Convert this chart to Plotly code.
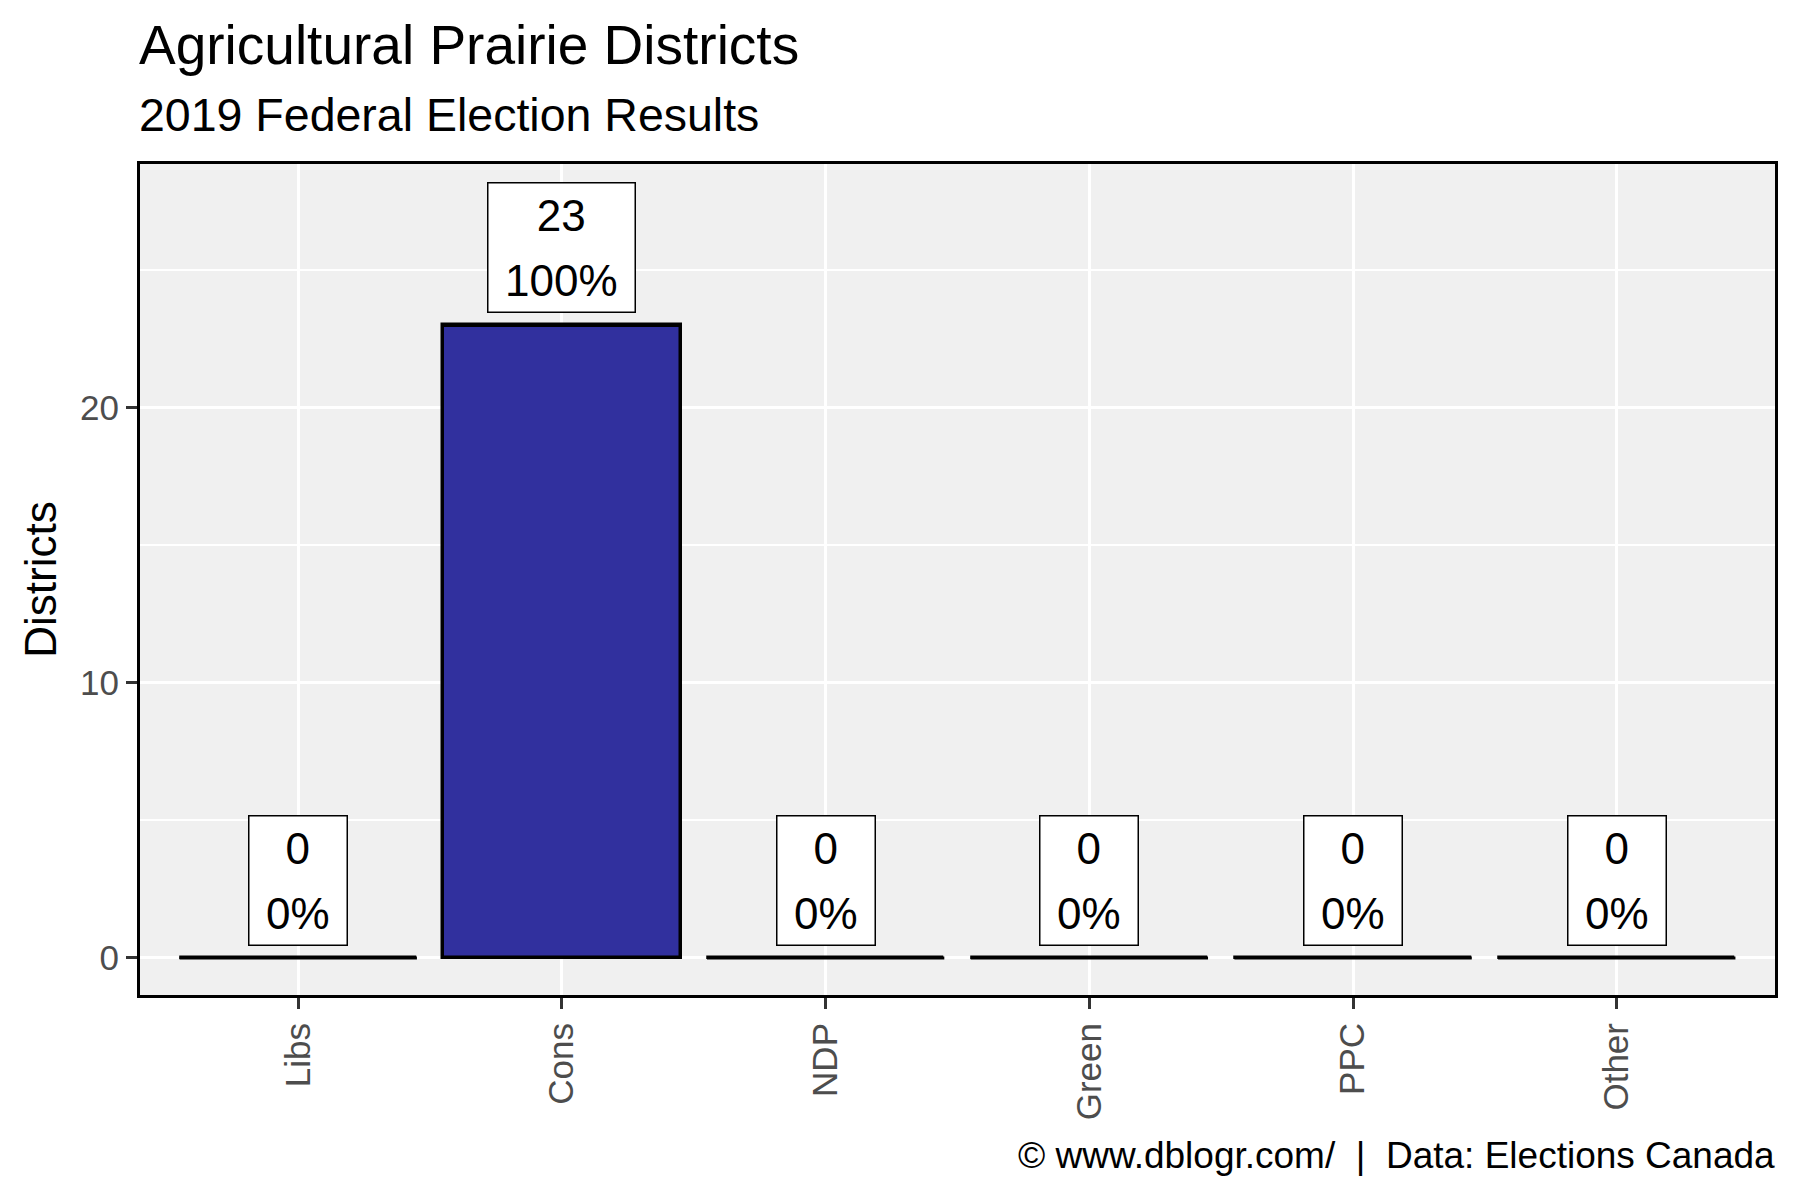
import plotly.graph_objects as go

categories = ["Libs", "Cons", "NDP", "Green", "PPC", "Other"]
districts = [0, 23, 0, 0, 0, 0]
percent_labels = ["0%", "100%", "0%", "0%", "0%", "0%"]

FONT = "Liberation Sans, Arial, sans-serif"
BAR_FILL = "#31309E"
BAR_WIDTH = 0.9

x_pos = list(range(1, len(categories) + 1))

fig = go.Figure()
fig.add_trace(go.Bar(
    x=x_pos, y=districts, width=BAR_WIDTH,
    marker=dict(color=BAR_FILL, line=dict(color="black", width=3.5)),
    hoverinfo="skip",
))

# baseline outline for each bar (zero-height bars are drawn as a line in the original)
seg_x, seg_y = [], []
for xp, v in zip(x_pos, districts):
    seg_x += [xp - BAR_WIDTH / 2, xp + BAR_WIDTH / 2, None]
    seg_y += [v, v, None]
fig.add_trace(go.Scatter(x=seg_x, y=seg_y, mode="lines",
                         line=dict(color="black", width=3), hoverinfo="skip"))


def text_w(s, size):
    widths = {"0": .556, "1": .556, "2": .556, "3": .556, "%": .889}
    return sum(widths.get(c, .556) for c in s) * size


LBL = 44
for xp, v, p in zip(x_pos, districts, percent_labels):
    fig.add_annotation(
        x=xp, y=v, xref="x", yref="y", yanchor="bottom", yshift=12,
        text=f"<span style='font-size:{LBL}px'>{v}</span><br><span style='font-size:{LBL}px'>{p}</span>",
        showarrow=False,
        font=dict(family=FONT, size=50, color="black"),
        bgcolor="white", bordercolor="black", borderwidth=1.5, borderpad=2,
        width=max(text_w(str(v), LBL), text_w(p, LBL)) + 29,
        height=124,
    )

fig.add_annotation(text="Agricultural Prairie Districts", xref="paper", yref="paper",
                   x=0, y=(995 - 45) / 831, xanchor="left", yanchor="middle", xshift=-3,
                   showarrow=False, font=dict(family=FONT, size=55, color="black"))
fig.add_annotation(text="2019 Federal Election Results", xref="paper", yref="paper",
                   x=0, y=(995 - 115) / 831, xanchor="left", yanchor="middle", xshift=-3,
                   showarrow=False, font=dict(family=FONT, size=46.5, color="black"))
fig.add_annotation(text="© www.dblogr.com/  |  Data: Elections Canada", xref="paper", yref="paper",
                   x=1, y=(995 - 1155) / 831, xanchor="right", yanchor="middle", xshift=2,
                   showarrow=False, font=dict(family=FONT, size=37, color="black"))

fig.update_layout(
    width=1784, height=1184,
    margin=dict(l=132, r=17, t=156, b=197),
    paper_bgcolor="white", plot_bgcolor="#F0F0F0",
    showlegend=False, bargap=0,
    font=dict(family=FONT),
)
fig.update_xaxes(
    range=[0.4, 6.6], tickmode="array", tickvals=x_pos, ticktext=categories,
    tickangle=-90, tickfont=dict(size=35, color="#4D4D4D"),
    ticks="outside", ticklen=11, tickwidth=3, tickcolor="#333333",
    showgrid=True, gridcolor="white", gridwidth=3, zeroline=False,
    showline=True, linecolor="black", linewidth=3, mirror=True,
)
fig.update_yaxes(
    range=[-1.35, 28.87], tickmode="array", tickvals=[0, 10, 20],
    tickfont=dict(size=35, color="#4D4D4D"),
    ticks="outside", ticklen=11, tickwidth=3, tickcolor="#333333",
    showgrid=True, gridcolor="white", gridwidth=3, zeroline=False,
    minor=dict(tickvals=[5, 15, 25], showgrid=True, gridcolor="white", gridwidth=1.5, ticks=""),
    showline=True, linecolor="black", linewidth=3, mirror=True,
    title=dict(text="Districts", font=dict(size=44, color="black"), standoff=10),
)

fig.write_html("out.html")
